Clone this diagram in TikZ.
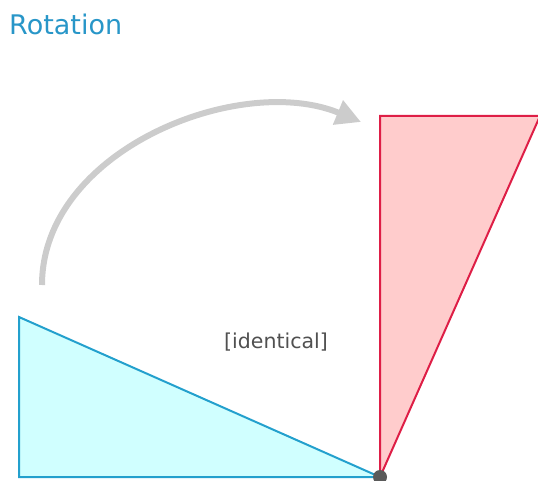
\documentclass[tikz,border=0pt]{standalone}
\usepackage{fontspec}
\setmainfont{DejaVu Sans}
\usetikzlibrary{arrows.meta}
\definecolor{titleblue}{RGB}{40,150,200}
\definecolor{cyanfill}{RGB}{208,255,255}
\definecolor{cyanline}{RGB}{35,160,205}
\definecolor{redfill}{RGB}{255,204,204}
\definecolor{redline}{RGB}{222,30,70}
\definecolor{arcgray}{RGB}{204,204,204}
\definecolor{dotgray}{RGB}{90,90,90}
\definecolor{labelgray}{RGB}{80,80,80}
\tikzset{
  original/.style={fill=cyanfill,draw=cyanline,line width=2pt,line join=miter},
  rotated/.style={fill=redfill,draw=redline,line width=2pt,line join=miter},
  turnarrow/.style={draw=arcgray,line width=6pt,-{Triangle[length=25pt,width=25pt]}},
  pivotdot/.style={circle,fill=dotgray,inner sep=0pt,minimum size=14pt},
  titletext/.style={text=titleblue,font=\fontsize{27}{32}\selectfont,anchor=base west,inner sep=0pt},
  labeltext/.style={text=labelgray,font=\fontsize{20.5}{24}\selectfont,inner sep=0pt}
}
\begin{document}
\begin{tikzpicture}[x=1pt,y=-1pt]
\useasboundingbox (0,0) rectangle (538,481);
\clip (0,0) rectangle (538,481);
\coordinate (a1) at (19,317);
\coordinate (a2) at (19,477);
\coordinate (p) at (380,477);
\coordinate (b1) at (380,116);
\coordinate (b2) at (540,116);
\coordinate (arcstart) at (42,285);
\coordinate (arcend) at (361,122);
\path[original] (a1) -- (a2) -- (p) -- cycle;
\path[rotated] (b1) -- (b2) -- (p) -- cycle;
\node[pivotdot] (pivot) at (p) {};
\draw[turnarrow] (arcstart) .. controls (42,150) and (240,72) .. (arcend);
\node[titletext] (title) at (9,35) {Rotation};
\node[labeltext] (label) at (276,342) {[identical]};
\end{tikzpicture}
\end{document}
